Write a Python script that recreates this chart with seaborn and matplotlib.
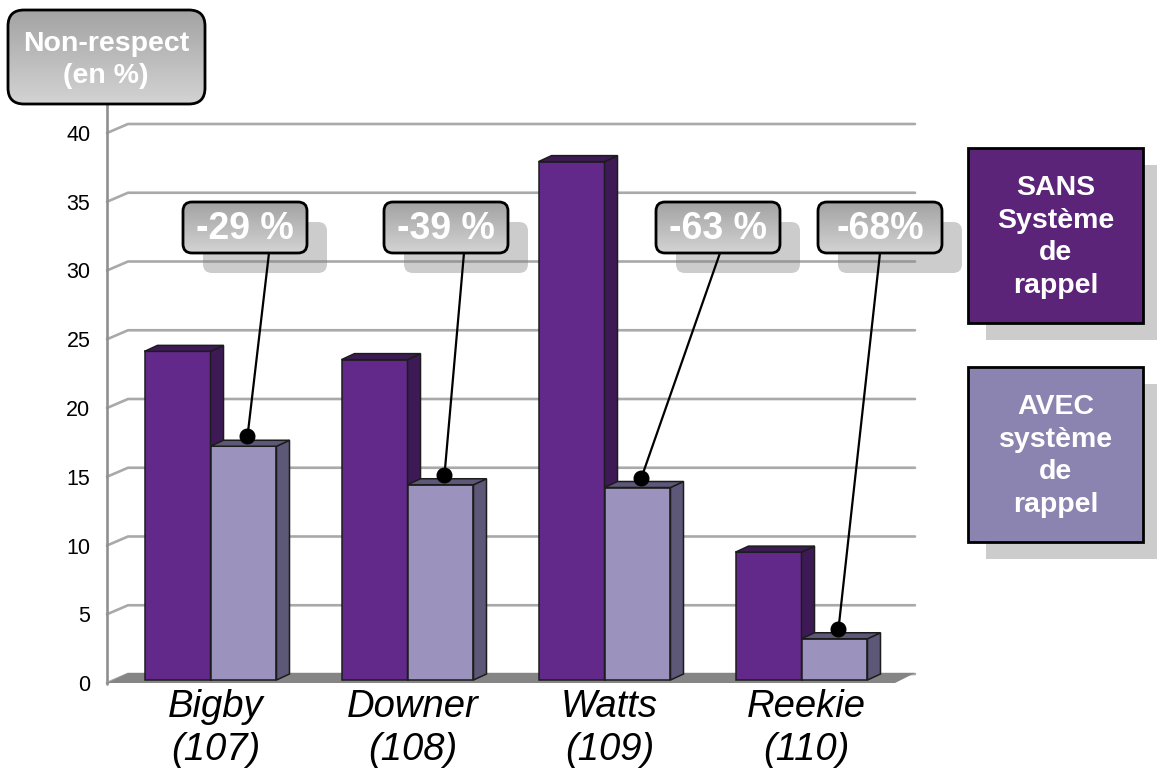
import numpy as np
import pandas as pd
import matplotlib
matplotlib.use("Agg")
import matplotlib.pyplot as plt
import seaborn as sns
from matplotlib.patches import Polygon, FancyBboxPatch
from matplotlib.transforms import ScaledTranslation, IdentityTransform
from matplotlib.lines import Line2D

# ---- data -------------------------------------------------------------
sites = ["Bigby", "Downer", "Watts", "Reekie"]
site_codes = ["(107)", "(108)", "(109)", "(110)"]
sans_rappel = [23.9, 23.3, 37.7, 9.3]
avec_rappel = [17.0, 14.2, 14.0, 3.0]
reductions = ["-29 %", "-39 %", "-63 %", "-68%"]
conditions = ["SANS Système de rappel", "AVEC système de rappel"]
y_ticks = [0, 5, 10, 15, 20, 25, 30, 35, 40]

# ---- style ------------------------------------------------------------
W, H = 1157, 769
sns.set_style("white")
plt.rcParams["font.family"] = ["Liberation Sans", "DejaVu Sans"]
plt.rcParams["text.color"] = "black"

SANS_FRONT, SANS_DARK = "#62298a", "#3d1a56"
AVEC_FRONT, AVEC_DARK = "#9b92bd", "#5d5878"
GRID = "#a9a9a9"
DEPTH = (13, 6)          # bar depth in pixels
BAR_SHIFT = (5, 3)       # bars sit slightly behind the front plane
WALL = (21, 9)           # back-wall offset of the gridlines

fig = plt.figure(figsize=(W / 100, H / 100), dpi=100)
ax = fig.add_axes([107 / W, 1 - 683 / H, 788 / W, 550 / H])
ax.set_xlim(-0.5, 3.5)
ax.set_ylim(0, 40)
ax.patch.set_visible(False)
for s in ax.spines.values():
    s.set_visible(False)

ov = fig.add_axes([0, 0, 1, 1], zorder=5)
ov.set_xlim(0, W)
ov.set_ylim(H, 0)
ov.axis("off")
ov.patch.set_visible(False)


def disp(x, y):
    return np.array(ax.transData.transform((x, y)))


def to_ov(pt):
    return ov.transData.inverted().transform(pt)


# ---- bars -------------------------------------------------------------
df = pd.DataFrame({
    "site": sites * 2,
    "condition": [conditions[0]] * len(sites) + [conditions[1]] * len(sites),
    "value": sans_rappel + avec_rappel,
})
sns.barplot(data=df, x="site", y="value", hue="condition",
            palette=[SANS_FRONT, AVEC_FRONT], width=0.67, saturation=1,
            errorbar=None, edgecolor="#1c1c1c", linewidth=1.1,
            legend=False, ax=ax, zorder=3)
ax.set_xlim(-0.5, 3.5)
ax.set_ylim(0, 40)

bars = [p for p in ax.patches]
kinds = {id(p): (0 if i < len(sites) else 1) for i, p in enumerate(bars)}
bars_sorted = sorted(bars, key=lambda p: p.get_x())
shift = np.array(BAR_SHIFT, float)
dep = np.array(DEPTH, float)
avec_tops = {}
for i, p in enumerate(bars_sorted):
    kind = kinds[id(p)]
    dark = SANS_DARK if kind == 0 else AVEC_DARK
    z = 3 + i * 0.1
    p.set_transform(ax.transData + ScaledTranslation(BAR_SHIFT[0] / 100, BAR_SHIFT[1] / 100,
                                                     fig.dpi_scale_trans))
    p.set_zorder(z)
    x, w, h = p.get_x(), p.get_width(), p.get_height()
    br = disp(x + w, 0) + shift
    tr = disp(x + w, h) + shift
    tl = disp(x, h) + shift
    side = Polygon([br, tr, tr + dep, br + dep], closed=True, fc=dark, ec="#1c1c1c",
                   lw=1.1, transform=IdentityTransform(), zorder=z + 0.01, clip_on=False)
    top = Polygon([tl, tr, tr + dep, tl + dep], closed=True, fc=dark, ec="#1c1c1c",
                  lw=1.1, transform=IdentityTransform(), zorder=z + 0.02, clip_on=False)
    ax.add_artist(side)
    ax.add_artist(top)
    if kind == 1:
        avec_tops[round(x + w / 2)] = (x + w / 2, h)

# ---- gridlines, floor --------------------------------------------------
for v in y_ticks:
    f = disp(-0.5, v)
    b = f + np.array(WALL)
    e = np.array([disp(3.5, v)[0] + 20, b[1]])
    ax.add_artist(Line2D([f[0], b[0], e[0]], [f[1], b[1], e[1]], color=GRID, lw=1.9,
                         transform=IdentityTransform(), zorder=1, clip_on=False))
fl, fr = disp(-0.5, 0), disp(3.5, 0)
floor = Polygon([fl, fr, fr + np.array([20, 10]), fl + np.array([21, 10])], closed=True,
                fc="#858585", ec="none", transform=IdentityTransform(), zorder=1.5,
                clip_on=False)
ax.add_artist(floor)

# ---- ticks --------------------------------------------------------------
ax.set_yticks(y_ticks)
ax.set_yticklabels([str(t) for t in y_ticks])
ax.tick_params(axis="y", length=0, pad=12, labelsize=15.5, labelcolor="black")
ax.set_xticks(range(len(sites)))
ax.set_xticklabels([f"{s}\n{c}" for s, c in zip(sites, site_codes)],
                   fontsize=27.5, style="italic", linespacing=1.28)
ax.tick_params(axis="x", length=0, pad=4, labelcolor="black")
for lab in ax.get_xticklabels():
    lab.set_transform(lab.get_transform() + ScaledTranslation(0.10, 0, fig.dpi_scale_trans))
ax.set_xlabel("")
ax.set_ylabel("")

# vertical axis line
ov.add_line(Line2D([107, 107], [104, 684], color="#8f8f8f", lw=1.9, zorder=1))


# ---- boxes --------------------------------------------------------------
def hexrgb(c):
    return np.array(matplotlib.colors.to_rgb(c))


def grad_box(x0, y0, w, h, r, z, c_top="#a3a3a3", c_bot="#d3d3d3", lw=2.0):
    patch = FancyBboxPatch((x0, y0), w, h, boxstyle=f"round,pad=0,rounding_size={r}",
                           fc="none", ec="black", lw=lw, zorder=z + 0.2)
    ov.add_patch(patch)
    t = np.linspace(0, 1, 64)[:, None, None]
    grad = hexrgb(c_top) + t * (hexrgb(c_bot) - hexrgb(c_top))
    im = ov.imshow(grad, extent=[x0, x0 + w, y0 + h, y0], aspect="auto",
                   interpolation="bilinear", zorder=z)
    im.set_clip_path(patch)


def shadow(x0, y0, w, h, r, z, dx=20, dy=20):
    ov.add_patch(FancyBboxPatch((x0 + dx, y0 + dy), w, h,
                                boxstyle=f"round,pad=0,rounding_size={r}",
                                fc=(0.5, 0.5, 0.5), alpha=0.40, ec="none", zorder=z))


# title box
grad_box(8, 10, 197, 94, 16, 6)
ov.text(106, 60, "Non-respect\n(en %)", ha="center", va="center", color="white",
        fontsize=20.5, fontweight="bold", linespacing=1.3, zorder=7)

# reduction labels with leader lines
box_x = [183, 384, 656, 818]
anchor_x = [269, 464, 720, 880]
avec_list = [avec_tops[k] for k in sorted(avec_tops)]
for bx, axx, lab, (cx, val) in zip(box_x, anchor_x, reductions, avec_list):
    shadow(bx, 202, 124, 51, 9, 4)
    grad_box(bx, 202, 124, 51, 9, 6)
    ov.text(bx + 62, 229, lab, ha="center", va="center", color="white", fontsize=27,
            fontweight="bold", zorder=7)
    dot = to_ov(disp(cx, val) + shift + np.array([4, 10]))
    ov.add_line(Line2D([dot[0], axx], [dot[1], 253], color="black", lw=1.6, zorder=5))
    ov.plot([dot[0]], [dot[1]], "o", ms=10.5, color="black", zorder=5.5)

# legend boxes
for (y0, fc), cond in zip([(148, "#5b2478"), (367, "#8b84b0")], conditions):
    ov.add_patch(FancyBboxPatch((968 + 18, y0 + 17), 175, 175, boxstyle="square,pad=0",
                                fc=(0.5, 0.5, 0.5), alpha=0.40, ec="none", zorder=4))
    ov.add_patch(FancyBboxPatch((968, y0), 175, 175, boxstyle="square,pad=0",
                                fc=fc, ec="black", lw=2.0, zorder=6))
    ov.text(1056, y0 + 89, "\n".join(cond.split()), ha="center", va="center",
            color="white", fontsize=20.5, fontweight="bold", linespacing=1.32, zorder=7)

ov.set_xlim(0, W)
ov.set_ylim(H, 0)
fig.savefig("out.png", dpi=100)
